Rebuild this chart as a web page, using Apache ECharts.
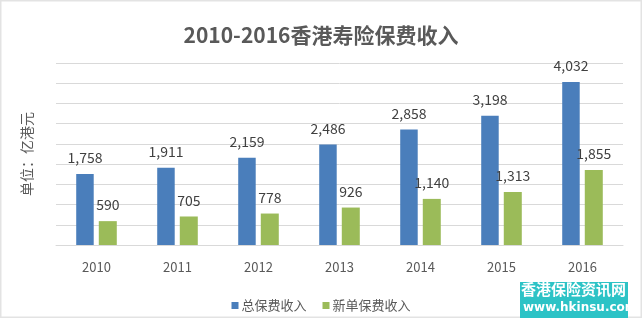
<!DOCTYPE html>
<html>
<head>
<meta charset="utf-8">
<script src="https://cdn.jsdelivr.net/npm/echarts@6/dist/echarts.min.js"></script>
<style>
html, body { margin: 0; padding: 0; background: #fff; }
#chart { width: 642px; height: 318px; }
</style>
</head>
<body>
<div id="chart"></div>
<script>
var years = ['2010', '2011', '2012', '2013', '2014', '2015', '2016'];
var totalPremium = [1758, 1911, 2159, 2486, 2858, 3198, 4032];
var newPremium = [590, 705, 778, 926, 1140, 1313, 1855];
var seriesNames = ['总保费收入', '新单保费收入'];

var chart = echarts.init(document.getElementById('chart'));
var font = '"Noto Sans CJK SC", "Open Sans", sans-serif';

function fmt(p) {
    return p.value.toLocaleString('en-US');
}

var option = {
    animation: false,
    textStyle: { fontFamily: font },
    title: {
        text: '2010-2016香港寿险保费收入',
        left: 'center',
        top: 20,
        textStyle: { fontSize: 21, fontWeight: 'bold', color: '#595959', fontFamily: font }
    },
    legend: {
        data: seriesNames,
        bottom: 1,
        left: 'center',
        itemWidth: 7,
        itemHeight: 7,
        itemGap: 16,
        icon: 'rect',
        textStyle: { fontSize: 13, color: '#595959', padding: [0, 0, 0, -2] }
    },
    grid: { left: 56, right: 19, top: 63, bottom: 73 },
    xAxis: {
        type: 'category',
        data: years,
        axisLine: { lineStyle: { color: '#d9d9d9' } },
        axisTick: { show: false },
        axisLabel: { fontSize: 13, color: '#595959', margin: 16 }
    },
    yAxis: {
        type: 'value',
        min: 0,
        max: 4500,
        interval: 500,
        name: '单位：亿港元',
        nameLocation: 'middle',
        nameGap: 22,
        nameTextStyle: { fontSize: 14, color: '#595959' },
        axisLabel: { show: false },
        axisLine: { show: false },
        axisTick: { show: false },
        splitLine: { lineStyle: { color: '#d9d9d9' } }
    },
    series: [
        {
            name: seriesNames[0],
            type: 'bar',
            data: totalPremium,
            barWidth: 17.5,
            barGap: '29%',
            itemStyle: { color: '#4A7EBB' },
            label: { show: true, position: 'top', distance: 9, fontSize: 14, color: '#404040', formatter: fmt }
        },
        {
            name: seriesNames[1],
            type: 'bar',
            data: newPremium,
            barWidth: 18,
            itemStyle: { color: '#9BBB59' },
            label: { show: true, position: 'top', distance: 9, fontSize: 14, color: '#404040', formatter: fmt }
        }
    ],
    graphic: [
        {
            type: 'rect',
            shape: { x: 0.5, y: 0.5, width: 641, height: 317 },
            style: { fill: 'none', stroke: '#e3e3e3', lineWidth: 2 },
            silent: true
        },
        {
            type: 'rect',
            left: 520,
            top: 282,
            shape: { width: 108, height: 36 },
            style: { fill: '#2CC3C6' },
            z: 10
        },
        {
            type: 'text',
            left: 521,
            top: 282,
            style: { text: '香港保险资讯网', fill: '#fff', font: 'bold 15px "Noto Sans CJK SC", sans-serif' },
            z: 11
        },
        {
            type: 'text',
            left: 523,
            top: 302,
            style: { text: 'www.hkinsu.com', fill: '#fff', font: 'bold 12px "DejaVu Sans", sans-serif' },
            z: 11
        }
    ]
};

chart.setOption(option);
</script>
</body>
</html>
